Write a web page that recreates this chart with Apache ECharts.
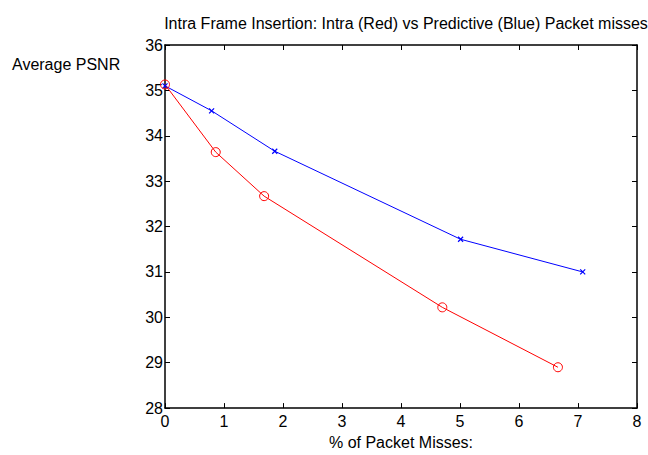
<!DOCTYPE html>
<html>
<head>
<meta charset="utf-8">
<script src="https://cdn.jsdelivr.net/npm/echarts@6/dist/echarts.min.js"></script>
<style>
html,body{margin:0;padding:0;background:#fff;}
#c{width:648px;height:455px;}
</style>
</head>
<body>
<div id="c"></div>
<script>
var intraX = [0, 0.86, 1.68, 4.70, 6.66];
var intraY = [35.13, 33.64, 32.67, 30.22, 28.90];
var predX = [0, 0.79, 1.86, 5.01, 7.08];
var predY = [35.10, 34.55, 33.66, 31.72, 31.00];
var titleText = 'Intra Frame Insertion: Intra (Red) vs Predictive (Blue) Packet misses';
var xLabel = '% of Packet Misses:';
var yLabel = 'Average PSNR';

function pairs(xs, ys){ return xs.map(function(x,i){ return [x, ys[i]]; }); }

var FONT = 'Liberation Sans, Arial, Helvetica, sans-serif';
var FS = 16;
var chart = echarts.init(document.getElementById('c'), null, {renderer:'svg'});
var axisCommon = {
  type:'value',
  axisLine:{show:true, onZero:false, lineStyle:{color:'#000', width:1.5}},
  axisTick:{show:true, inside:true, length:5, lineStyle:{color:'#000', width:1}},
  splitLine:{show:false}
};
chart.setOption({
  animation:false,
  backgroundColor:'#fff',
  textStyle:{fontFamily:FONT},
  title:{
    text:titleText, left:401, top:10, textAlign:'center',
    textStyle:{fontFamily:FONT, fontSize:FS, fontWeight:'normal', color:'#000'}
  },
  grid:{left:165, right:11, top:45, bottom:39.5, containLabel:false},
  xAxis:[
    Object.assign({}, axisCommon, {
      position:'bottom', min:0, max:8, interval:1,
      name:xLabel, nameLocation:'middle', nameGap:24,
      nameTextStyle:{fontFamily:FONT, fontSize:FS, color:'#000'},
      axisLabel:{fontFamily:FONT, fontSize:FS, color:'#000', margin:5}
    }),
    Object.assign({}, axisCommon, {
      position:'top', min:0, max:8, interval:1, axisLabel:{show:false}
    })
  ],
  yAxis:[
    Object.assign({}, axisCommon, {
      position:'left', min:28, max:36, interval:1,
      axisLabel:{fontFamily:FONT, fontSize:FS, color:'#000', margin:2}
    }),
    Object.assign({}, axisCommon, {
      position:'right', min:28, max:36, interval:1, axisLabel:{show:false}
    })
  ],
  graphic:[{
    type:'text', left:12, top:56,
    style:{text:yLabel, font:FS + 'px ' + FONT, fill:'#000'}
  }],
  series:[
    {
      type:'line', name:'Predictive', data:pairs(predX, predY),
      symbol:'path://M0,0L10,10M10,0L0,10', symbolSize:5,
      lineStyle:{color:'#0000ff', width:1},
      itemStyle:{color:'#0000ff', borderColor:'#0000ff', borderWidth:1.2}
    },
    {
      type:'line', name:'Intra', data:pairs(intraX, intraY),
      symbol:'circle', symbolSize:9,
      lineStyle:{color:'#ff0000', width:1},
      itemStyle:{color:'rgba(0,0,0,0)', borderColor:'#ff0000', borderWidth:1}
    }
  ]
});
</script>
</body>
</html>
